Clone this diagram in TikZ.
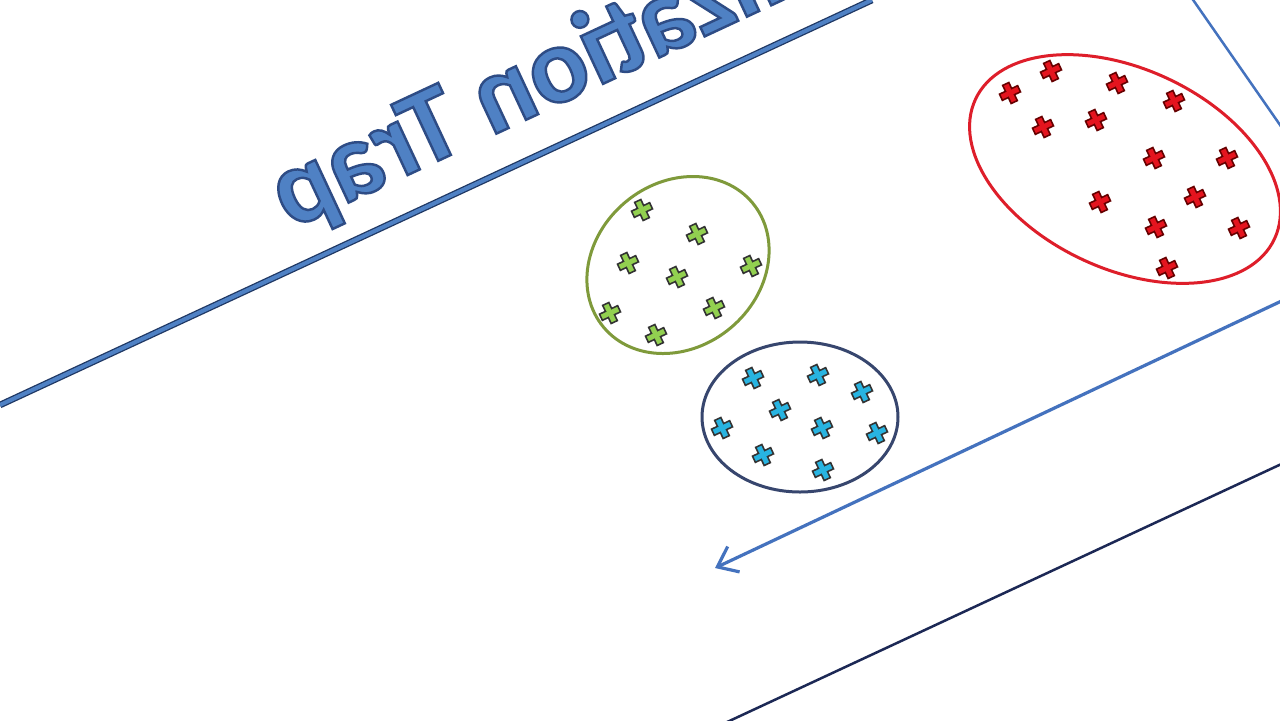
\documentclass[tikz,border=0pt]{standalone}
\usepackage{fontspec}
\setsansfont{Carlito}
\usepackage{tikz}
\usetikzlibrary{arrows.meta, shapes.geometric}
\definecolor{trapblue}{RGB}{79,129,196}
\definecolor{trapdark}{RGB}{31,56,100}
\definecolor{arrowblue}{RGB}{68,114,190}
\definecolor{navyline}{RGB}{28,40,85}
\definecolor{grnline}{RGB}{127,154,59}
\definecolor{grnfill}{RGB}{146,208,80}
\definecolor{bluline}{RGB}{55,70,110}
\definecolor{blufill}{RGB}{40,180,225}
\definecolor{redline}{RGB}{222,30,42}
\definecolor{redfill}{RGB}{228,20,30}
% outlined letters
\newcommand{\outlined}[1]{\special{pdf:literal direct 0.18 0.30 0.52 RG 2 Tr 0.7 w}#1\special{pdf:literal direct 0 Tr}}

\tikzset{
  cluster/.style={ellipse, draw, line width=0.3mm, inner sep=0pt, outer sep=0pt},
  pics/crossmark/.style={code={
    \path[pic actions, rotate=25] (-3.4,-10) -- (3.4,-10) -- (3.4,-3.4) -- (10,-3.4) -- (10,3.4) -- (3.4,3.4)
      -- (3.4,10) -- (-3.4,10) -- (-3.4,3.4) -- (-10,3.4) -- (-10,-3.4) -- (-3.4,-3.4) -- cycle;}},
}

\begin{document}
\begin{tikzpicture}[x=0.1mm, y=-0.1mm]
  \useasboundingbox (0,0) rectangle (1280,720);
  \clip (0,0) rectangle (1280,720);
  \fill[white] (0,0) rectangle (1280,720);
  % mirrored title
  \begin{scope}[shift={(290,230)}, cm={-0.906,-0.423,-0.423,0.906,(0,0)}]
    \node[transform shape, anchor=base east, inner sep=0pt, text=trapblue,
      font=\fontsize{31}{36}\sffamily\bfseries] (title) at (0,0) {\outlined{lization Trap}};
  \end{scope}
  \coordinate (ulA) at (0,405);
  \coordinate (ulB) at (872,0);
  \draw[trapdark, line width=0.66mm] (ulA) -- (ulB);
  \draw[trapblue, line width=0.4mm] (ulA) -- (ulB);
  % frame lines
  \coordinate (edgeA) at (1189,-6);
  \coordinate (edgeB) at (1287,135);
  \draw[arrowblue, line width=0.25mm] (edgeA) -- (edgeB);
  \coordinate (baseA) at (725,723);
  \coordinate (baseB) at (1290,460);
  \draw[navyline, line width=0.25mm] (baseA) -- (baseB);
  % clusters
  \node[cluster, draw=grnline, minimum width=19.4mm, minimum height=16.4mm, rotate=40] (greenset) at (678,265) {};
  \node[cluster, draw=bluline, minimum width=19.6mm, minimum height=15mm] (blueset) at (800,417) {};
  \node[cluster, draw=redline, minimum width=33mm, minimum height=20mm, rotate=-25] (redset) at (1125,169) {};
  \foreach \pt in {(642,210),(697,234),(628,263),(677,277),(751,266),(610,313),(714,308),(656,335)}
    \pic[fill=grnfill, draw=black!80, line width=0.45pt] at \pt {crossmark};
  \foreach \pt in {(753,378),(818,375),(862,392),(780,410),(722,428),(822,428),(877,433),(763,455),(823,470)}
    \pic[fill=blufill, draw=black!80, line width=0.45pt] at \pt {crossmark};
  \foreach \pt in {(1010,93),(1051,71),(1117,83),(1174,101),(1043,127),(1096,120),(1154,158),
      (1227,158),(1100,202),(1195,197),(1156,227),(1239,228),(1167,268)}
    \pic[fill=redfill, draw=red!40!black, line width=0.45pt] at \pt {crossmark};
  % arrow
  \coordinate (arrStart) at (1290,297);
  \coordinate (arrTip) at (715,568);
  \draw[arrowblue, line width=0.32mm, -{Straight Barb[length=1.8mm,width=2.8mm]}] (arrStart) -- (arrTip);
\end{tikzpicture}
\end{document}
